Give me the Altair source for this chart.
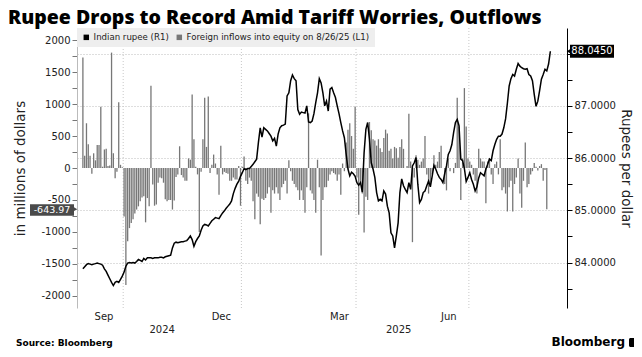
import altair as alt
import pandas as pd

# ---------------- data (one value per trading day) -------------
rupee_aug_sep = [83.88, 83.92, 83.96, 83.98, 83.97, 83.96, 83.97, 83.98, 83.99, 83.98, 83.97, 83.95,
                 83.88, 83.83, 83.76, 83.69, 83.62, 83.56, 83.62, 83.64, 83.62, 83.68, 83.74]
rupee_oct = [83.82, 83.93, 83.99, 84.00, 83.99, 84.00, 83.99, 84.02, 84.06, 84.04, 84.02, 84.08,
             84.05, 84.09, 84.09, 84.09, 84.08, 84.09, 84.09, 84.09, 84.10, 84.10, 84.09]
rupee_nov = [84.11, 84.12, 84.13, 84.14, 84.28, 84.37, 84.39, 84.38, 84.39, 84.40, 84.40, 84.41,
             84.42, 84.46, 84.51, 84.44, 84.31, 84.40, 84.46, 84.51, 84.62]
rupee_dec = [84.70, 84.73, 84.72, 84.70, 84.75, 84.80, 84.83, 84.86, 84.85, 84.84, 84.90, 84.95,
             84.99, 85.04, 85.08, 85.12, 85.18, 85.32, 85.42, 85.50, 85.56, 85.65]
rupee_jan = [85.72, 85.80, 85.78, 85.80, 85.80, 85.84, 85.88, 85.93, 85.98, 86.30, 86.58, 86.40,
             86.58, 86.55, 86.52, 86.47, 86.42, 86.33, 86.38, 86.23, 86.46, 86.58, 86.62]
rupee_feb = [86.63, 86.65, 87.19, 87.25, 87.48, 87.59, 87.52, 87.48, 86.93, 86.84, 86.88, 86.87,
             86.86, 87.00, 86.69, 86.68, 86.71, 86.85, 87.06, 87.25]
rupee_mar = [87.52, 87.44, 87.25, 87.00, 87.09, 86.90, 87.32, 87.35, 87.25, 87.16, 87.00, 86.85,
             86.68, 86.52, 86.39, 86.07, 85.79, 85.66, 85.73, 85.70, 85.65]
rupee_apr = [85.53, 85.48, 85.53, 85.35, 86.10, 86.55, 86.68, 86.36, 85.91, 85.79, 85.63, 85.34,
             85.18, 85.21, 85.18, 85.37, 85.31, 85.08, 84.95, 84.57, 84.51]
rupee_may = [84.28, 84.51, 84.76, 85.34, 85.60, 85.47, 85.40, 85.34, 85.53, 85.40, 85.85, 85.91,
             86.01, 85.50, 85.15, 85.21, 85.34, 85.37, 85.47, 85.56, 85.45]
rupee_jun = [85.65, 85.86, 85.79, 85.70, 85.63, 85.59, 85.53, 85.70, 85.85, 86.07, 86.14, 86.26,
             86.49, 86.68, 86.74, 86.62, 85.98, 85.95, 85.80, 85.55, 85.63]
rupee_jul = [85.72, 85.59, 85.50, 85.37, 85.45, 85.62, 85.72, 85.69, 85.66, 85.79, 85.88, 85.98,
             85.95, 86.14, 86.26, 86.36, 86.42, 86.42, 86.46, 86.58, 86.75, 87.05, 87.38]
rupee_aug = [87.52, 87.60, 87.57, 87.70, 87.81, 87.76, 87.73, 87.71, 87.70, 87.71, 87.60, 87.57,
             87.48, 87.22, 86.99, 87.09, 87.29, 87.51, 87.60, 87.70, 87.67, 87.80, 88.045]

flows_aug_sep = [1730, 190, 700, 370, 190, -90, 230, 120, 360, 360, 960, 20, 290, 300, 30, 40,
                 1805, 230, -160, -60, 1030, 50, 10]
flows_oct = [-760, -1830, -1145, -940, -860, -800, -710, -650, -600, -520, -460, -440, -850, -470,
             -600, 1285, -260, -590, -570, -230, -150, -160, -230]
flows_nov = [-490, -520, -500, -500, -650, -510, -140, -100, 340, -110, -150, -200, -200, 150, 130,
             1150, 450, 20, -100, -1000, -60]
flows_dec = [450, 1100, 330, 1120, -80, 50, 210, 70, -100, -420, 350, -100, -60, -80, -90, -200,
             -200, -150, -180, -180, 30, -590]
flows_jan = [20, 180, -200, -250, -150, -200, -520, -800, -400, -450, -880, -480, -500, -470, -400,
             -300, -700, -350, -400, -300, -400, -500, -300]
flows_feb = [-250, -200, -400, 120, -50, -200, -250, -300, -350, -500, -350, -500, -700, -300, 855,
             -350, -400, -500, -700, 130]
flows_mar = [-300, -1370, -500, -300, -300, -200, -100, -50, -80, -100, -200, -100, -420, 70, -50,
             400, 600, 700, 500, 300, 960]
flows_apr = [-150, -730, -250, -400, -1010, -450, -500, 720, 590, 450, 430, 350, 450, 310, 250, 470,
             600, 540, 270, 300, 150]
flows_may = [330, 310, 160, 330, 450, 300, 0, 30, 850, 100, -1160, -150, 200, 130, 50, 100, 150, 500,
             -100, -400, -250]
flows_jun = [-100, 200, 50, 100, 250, 350, 0, -250, -350, 150, -50, 0, -80, 80, 1100, 650, -500, 150,
             1250, 650, 150]
flows_jul = [100, 50, -100, -200, -400, 300, 150, 100, 100, -550, 100, 150, -100, -250, 60, 100, -100,
             450, -350, -300, -400, -680, -300]
flows_aug = [-200, -680, -250, -150, 150, -400, -620, -200, 400, -300, -250, -100, -50, 80, 20, -40,
             30, 60, -200, -30, -643.97]

RUPEE_NAME = "Indian rupee (R1)"
FLOW_NAME = "Foreign inflows into equity on 8/26/25 (L1)"
TITLE = "Rupee Drops to Record Amid Tariff Worries, Outflows"

month_labels = ["Sep", "Dec", "Mar", "Jun"]
month_pos = [11.5, 77, 143, 204]          # trading-day index of label centre
year_labels = ["2024", "2025"]
year_pos = [44, 176]
quarter_grid = [22.5, 88.5, 152.5, 215.5]  # Oct 1, Jan 1, Apr 1, Jul 1

last_flow_label = "-643.97"
last_rupee_label = "88.0450"

# ---------------- tables --------------------------------------------------------------
rupee = (rupee_aug_sep + rupee_oct + rupee_nov + rupee_dec + rupee_jan + rupee_feb + rupee_mar
         + rupee_apr + rupee_may + rupee_jun + rupee_jul + rupee_aug)
flows = (flows_aug_sep + flows_oct + flows_nov + flows_dec + flows_jan + flows_feb + flows_mar
         + flows_apr + flows_may + flows_jun + flows_jul + flows_aug)

df_line = pd.DataFrame({"i": list(range(len(rupee))), "rupee": rupee})
df_bar = pd.DataFrame({"i": list(range(len(flows))), "flow": flows, "base": 0, "series": FLOW_NAME})
df_grid = pd.DataFrame({"i": quarter_grid})
df_lann = pd.DataFrame({"flow": [flows[-1]], "t": [last_flow_label]})
df_rann = pd.DataFrame({"rupee": [rupee[-1]], "t": [last_rupee_label]})
df_src = pd.DataFrame({"t": ["Source: Bloomberg"]})
df_logo = pd.DataFrame({"t": ["Bloomberg"]})

W, H = 490, 280
FONT = "DejaVu Sans"

x_scale = alt.Scale(domain=[-0.5, 267.5], nice=False, zero=False)
l_scale = alt.Scale(domain=[-2190, 2190], nice=False)
r_scale = alt.Scale(domain=[83.13, 88.49], nice=False, zero=False)
c_scale = alt.Scale(domain=[RUPEE_NAME, FLOW_NAME], range=["#000000", "#777777"])

cases = [f"datum.value === {p} ? '{l}'" for p, l in zip(month_pos, month_labels)]
cases += [f"datum.value === {p} ? [' ', '{l}']" for p, l in zip(year_pos, year_labels)]
x_label_expr = " : ".join(cases) + " : ''"

x_axis = alt.Axis(values=month_pos + year_pos, labelExpr=x_label_expr, ticks=False, domain=False,
                  grid=False, labelPadding=3, labelFontSize=10, labelColor="#222",
                  labelOverlap=False, labelFlush=False, labelLineHeight=13, title=None)

l_axis = alt.Axis(orient="left", values=list(range(-2000, 2001, 250)),
                  labelExpr="datum.value % 500 === 0 ? '' + datum.value : ''",
                  tickSize=5, tickColor="#777", domainColor="#bbb", labelPadding=2,
                  labelFontSize=10, labelColor="#222", grid=False,
                  title="in millions of dollars", titleFontSize=13.5, titleFontWeight="normal",
                  titleColor="#222", titleX=-57, titleY=H / 2, titleAngle=-90,
                  titleBaseline="middle", titleAlign="center")

# the 88.0000 label sits under the last-value tag, so it is not printed
r_axis = alt.Axis(orient="right", values=[83.5 + 0.5 * k for k in range(10)],
                  labelExpr="datum.value % 1 === 0 && datum.value < 88 ? format(datum.value, '.4f') : ''",
                  tickSize=5, tickColor="#000", domainColor="#000", labelPadding=2,
                  labelFontSize=10, labelColor="#222",
                  grid=True, gridDash=[1, 2], gridColor="#bdbdbd",
                  gridOpacity={"condition": {"test": "datum.value % 1 !== 0", "value": 0}, "value": 1},
                  title="Rupees per dollar", titleFontSize=13.5, titleFontWeight="normal",
                  titleColor="#222", titleX=58, titleY=H / 2, titleAngle=90,
                  titleBaseline="middle", titleAlign="center")

legend = alt.Legend(orient="top-left", offset=0, direction="horizontal", fillColor="#eeeeee",
                    padding=5, symbolType="square", symbolSize=30, symbolStrokeWidth=0,
                    labelFont=FONT, labelFontSize=8.6, labelColor="#222", labelLimit=400,
                    columnPadding=6, labelOffset=3, title=None)

X = alt.X("i:Q", scale=x_scale, axis=x_axis)
YL = alt.Y("flow:Q", scale=l_scale, axis=l_axis)
YR = alt.Y("rupee:Q", scale=r_scale, axis=r_axis)

# ---------------- left (flows) group ---------------------------------------------------
vgrid = alt.Chart(df_grid).mark_rule(strokeDash=[1, 2], color="#c8c8c8").encode(x=X)

bars = alt.Chart(df_bar).mark_bar(width=1.3).encode(
    x=X, y=YL, y2="base:Q",
    color=alt.Color("series:N", scale=c_scale, legend=legend))

l_rect = alt.Chart(df_lann).mark_rect(color="#4a4a4a", yOffset=-5, y2Offset=6.5).encode(
    x=alt.value(-47), x2=alt.value(-3), y=YL, y2="flow:Q")
l_tri = alt.Chart(df_lann).mark_point(shape="triangle-right", filled=True, size=28,
                                      color="#4a4a4a", opacity=1).encode(
    x=alt.value(-2), y=YL)
l_text = alt.Chart(df_lann).mark_text(color="white", font=FONT, fontSize=9.5, align="center",
                                      baseline="middle", dy=1).encode(
    x=alt.value(-25), y=YL, text="t:N")

src = alt.Chart(df_src).mark_text(font=FONT, fontSize=9, fontWeight="bold", align="left",
                                  baseline="middle", color="#000").encode(
    x=alt.value(-61), y=alt.value(315), text="t:N")
logo = alt.Chart(df_logo).mark_text(font=FONT, fontSize=12, fontWeight="bold", align="right",
                                    baseline="middle", color="#000").encode(
    x=alt.value(548), y=alt.value(314), text="t:N")
logo_icon = alt.Chart(df_logo).mark_rect(color="#000", cornerRadius=1.5).encode(
    x=alt.value(552), x2=alt.value(560), y=alt.value(310), y2=alt.value(319))

left = alt.layer(vgrid, bars, l_rect, l_tri, l_text, src, logo, logo_icon)

# ---------------- right (rupee) group --------------------------------------------------
line = alt.Chart(df_line).mark_line(color="#000", strokeWidth=1.5).encode(x=X, y=YR)

r_rect = alt.Chart(df_rann).mark_rect(color="#000", yOffset=-6.5, y2Offset=6.5).encode(
    x=alt.value(493), x2=alt.value(537), y=YR, y2="rupee:Q")
r_tri = alt.Chart(df_rann).mark_point(shape="triangle-left", filled=True, size=28,
                                      color="#000", opacity=1).encode(
    x=alt.value(492), y=YR)
r_text = alt.Chart(df_rann).mark_text(color="white", font=FONT, fontSize=10, align="center",
                                      baseline="middle").encode(
    x=alt.value(515), y=YR, text="t:N")

right = alt.layer(line, r_rect, r_tri, r_text)

chart = alt.layer(left, right).resolve_scale(y="independent").properties(
    width=W, height=H,
    title=alt.TitleParams(TITLE, anchor="start", frame="group", font="Open Sans", fontSize=19.5,
                          fontWeight=800, color="#000", dx=-69, dy=6, offset=5),
    padding={"left": 69, "top": 20, "right": 67, "bottom": 41},
    autosize=alt.AutoSizeParams(type="none"),
).configure_view(strokeWidth=0).configure_axis(labelFont=FONT, titleFont=FONT)

chart.save("out.html", embed_options={"renderer": "svg", "actions": False})
